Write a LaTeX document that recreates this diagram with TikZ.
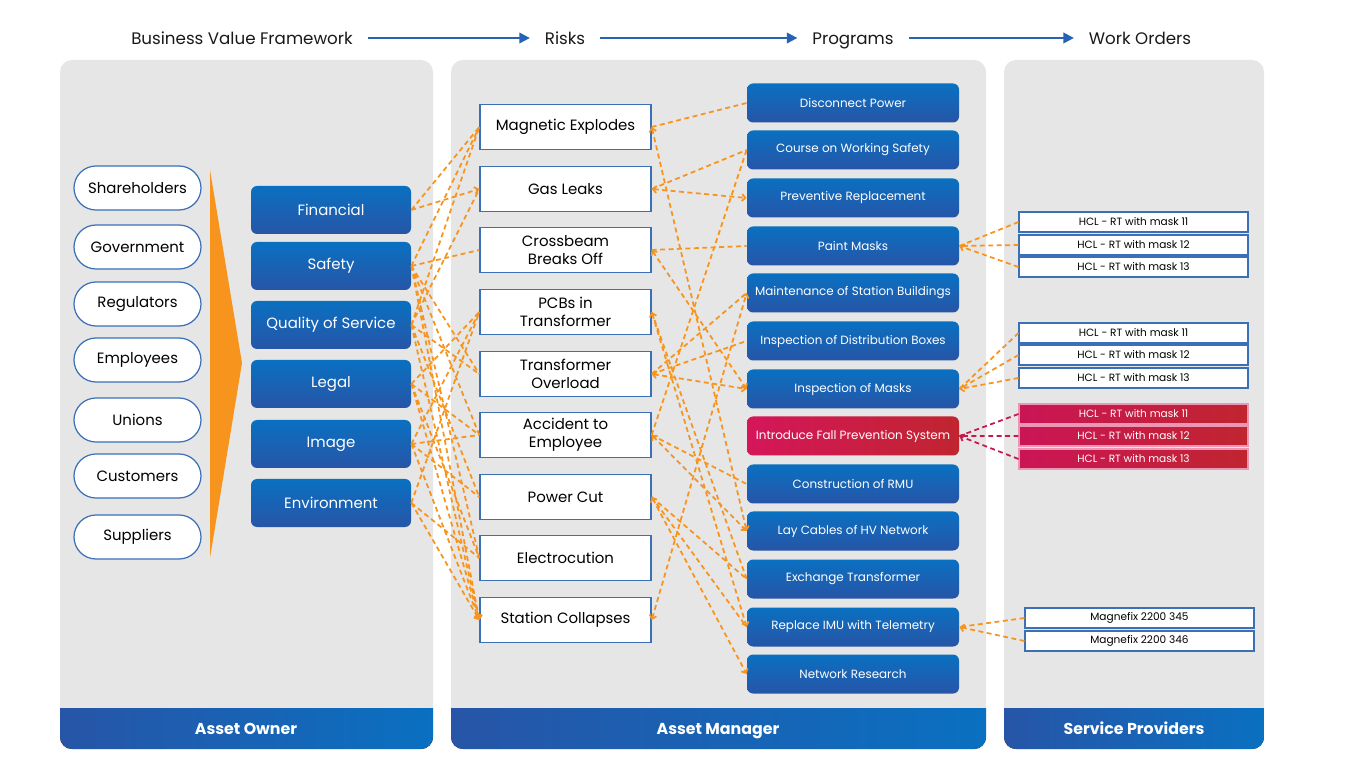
\documentclass[tikz,border=0pt]{standalone}
\usepackage{fontspec}
\setmainfont{Poppins}
\usepackage{xcolor}
\usepackage{tikz}
\usetikzlibrary{positioning, shapes, arrows.meta, calc}

\definecolor{panelgray}{HTML}{E6E6E6}
\definecolor{btop}{HTML}{0A70C1}
\definecolor{bbot}{HTML}{2755A7}
\definecolor{linkorange}{HTML}{F7941D}
\definecolor{rleft}{HTML}{D5165A}
\definecolor{rright}{HTML}{C0252F}
\definecolor{linkred}{HTML}{C8174B}
\definecolor{edgeblue}{HTML}{3B6FB6}
\definecolor{hdblue}{HTML}{2663B4}

\begin{document}
\begin{tikzpicture}[x=0.2mm, y=-0.2mm,
  hd/.style={font=\fontsize{9.5}{11}\selectfont, text=black!90, text height=1.75ex, text depth=0.5ex},
  hdarr/.style={-{Triangle[length=6pt, width=6pt]}, line width=1.2pt, hdblue, shorten <=5pt, shorten >=5pt},
  foot/.style={text=white, font=\bfseries\fontsize{9}{11}\selectfont, text height=1.75ex, text depth=0.5ex},
  pill/.style={draw=edgeblue, fill=white, line width=0.7pt, rounded corners=4.4mm, minimum width=2.54cm, minimum height=0.88cm, font=\fontsize{8.5}{10}\selectfont},
  value/.style={rounded corners=1.2mm, top color=btop, bottom color=bbot, text=white, minimum width=3.2cm, minimum height=0.96cm, font=\fontsize{8.5}{10}\selectfont},
  risk/.style={draw=edgeblue, fill=white, line width=0.8pt, minimum width=3.42cm, minimum height=0.9cm, align=center, inner sep=1pt, font=\fontsize{8.5}{10}\selectfont},
  prog/.style={rounded corners=1.2mm, top color=btop, bottom color=bbot, text=white, minimum width=4.24cm, minimum height=0.78cm, inner sep=1pt, font=\fontsize{6.8}{8}\selectfont},
  hot/.style={left color=rleft, right color=rright},
  wo/.style={draw=edgeblue, fill=white, line width=0.6pt, minimum width=4.58cm, minimum height=0.4cm, inner sep=1pt, font=\fontsize{6}{7}\selectfont},
  wohot/.style={draw=rleft!45, left color=rleft!95!black, right color=rright, text=white},
  link/.style={linkorange, line width=1pt, dash pattern=on 2.8pt off 2pt, >={Straight Barb[length=2pt, width=4pt]}},
  redlink/.style={link, linkred}
]

\useasboundingbox (0,0) rectangle (1366,768);

% ── Panels ──
\fill[panelgray, rounded corners=2.4mm] (60,60) rectangle (433,749);
\fill[panelgray, rounded corners=2.4mm] (451,60) rectangle (986,749);
\fill[panelgray, rounded corners=2.4mm] (1004,60) rectangle (1264,749);
\begin{scope}
  \clip[rounded corners=2.4mm] (60,60) rectangle (433,749) (451,60) rectangle (986,749) (1004,60) rectangle (1264,749);
  \fill[left color=bbot, right color=btop] (60,708) rectangle (433,749);
  \fill[left color=bbot, right color=btop] (451,708) rectangle (986,749);
  \fill[left color=bbot, right color=btop] (1004,708) rectangle (1264,749);
\end{scope}
\node[foot] (owner) at (246,728) {Asset Owner};
\node[foot] (manager) at (718,728) {Asset Manager};
\node[foot] (providers) at (1134,728) {Service Providers};

% ── Header ──
\node[hd] (bvf) at (242,38) {Business Value Framework};
\node[hd] (risks) at (565,38) {Risks};
\node[hd] (programs) at (853,38) {Programs};
\node[hd] (orders) at (1140,38) {Work Orders};
\draw[hdarr] (bvf) -- (risks);
\draw[hdarr] (risks) -- (programs);
\draw[hdarr] (programs) -- (orders);

% ── Stakeholders ──
\node[pill] (share) at (137.5,188) {Shareholders};
\node[pill] (gov) at (137.5,247) {Government};
\node[pill] (reg) at (137.5,304) {Regulators};
\node[pill] (empl) at (137.5,360) {Employees};
\node[pill] (union) at (137.5,420) {Unions};
\node[pill] (cust) at (137.5,476) {Customers};
\node[pill] (supp) at (137.5,537) {Suppliers};
\fill[linkorange] (210,170) -- (242,363) -- (210,558) -- cycle;

% ── Business values ──
\node[value] (fin) at (331,210) {Financial};
\node[value] (saf) at (331,266) {Safety};
\node[value] (qos) at (331,325) {Quality of Service};
\node[value] (leg) at (331,384) {Legal};
\node[value] (img) at (331,444) {Image};
\node[value] (env) at (331,503) {Environment};

% ── Risks ──
\node[risk] (magn) at (565.5,127) {Magnetic Explodes};
\node[risk] (gas) at (565.5,189) {Gas Leaks};
\node[risk] (cross) at (565.5,250) {Crossbeam\\Breaks Off};
\node[risk] (pcb) at (565.5,312) {PCBs in\\Transformer};
\node[risk] (over) at (565.5,374) {Transformer\\Overload};
\node[risk] (acc) at (565.5,435) {Accident to\\Employee};
\node[risk] (power) at (565.5,497) {Power Cut};
\node[risk] (elec) at (565.5,558) {Electrocution};
\node[risk] (coll) at (565.5,620) {Station Collapses};

% ── Programs ──
\node[prog] (disc) at (853,103) {Disconnect Power};
\node[prog] (course) at (853,150) {Course on Working Safety};
\node[prog] (prev) at (853,198) {Preventive Replacement};
\node[prog] (paint) at (853,246) {Paint Masks};
\node[prog] (maint) at (853,293) {Maintenance of Station Buildings};
\node[prog] (distb) at (853,341) {Inspection of Distribution Boxes};
\node[prog] (insm) at (853,389) {Inspection of Masks};
\node[prog, hot] (fall) at (853,436) {Introduce Fall Prevention System};
\node[prog] (rmu) at (853,484) {Construction of RMU};
\node[prog] (lay) at (853,531) {Lay Cables of HV Network};
\node[prog] (exch) at (853,579) {Exchange Transformer};
\node[prog] (repl) at (853,627) {Replace IMU with Telemetry};
\node[prog] (net) at (853,674) {Network Research};

% ── Work orders ──
\node[wo] (pm1) at (1133.5,222) {HCL - RT with mask 11};
\node[wo] (pm2) at (1133.5,245) {HCL - RT with mask 12};
\node[wo] (pm3) at (1133.5,267) {HCL - RT with mask 13};
\node[wo] (im1) at (1133.5,333) {HCL - RT with mask 11};
\node[wo] (im2) at (1133.5,355) {HCL - RT with mask 12};
\node[wo] (im3) at (1133.5,378) {HCL - RT with mask 13};
\node[wo, wohot] (fp1) at (1133.5,414) {HCL - RT with mask 11};
\node[wo, wohot] (fp2) at (1133.5,436) {HCL - RT with mask 12};
\node[wo, wohot] (fp3) at (1133.5,459) {HCL - RT with mask 13};
\node[wo] (mg1) at (1139.5,618) {Magnefix 2200 345};
\node[wo] (mg2) at (1139.5,641) {Magnefix 2200 346};

% ═══ LINKS ═══
% values -> risks
\draw[link, ->] (fin.east) -- (magn.west) (fin.east) -- (gas.west);
\draw[link, ->] (saf.east) -- (magn.west) (saf.east) -- (cross.west) (saf.east) -- (over.west) (saf.east) -- (acc.west) (saf.east) -- (elec.west) (saf.east) -- (coll.west);
\draw[link, ->] (qos.east) -- (magn.west) (qos.east) -- (gas.west) (qos.east) -- (over.west) (qos.east) -- (power.west) (qos.east) -- (coll.west);
\draw[link, ->] (leg.east) -- (pcb.west) (leg.east) -- (acc.west) (leg.east) -- (elec.west) (leg.east) -- (coll.west);
\draw[link, ->] (img.east) -- (pcb.west) (img.east) -- (acc.west) (img.east) -- (power.west) (img.east) -- (coll.west);
\draw[link, ->] (env.east) -- (pcb.west) (env.east) -- (elec.west) (env.east) -- (coll.west);

% risks <-> programs
\draw[link, <->] (magn.east) -- (disc.west) (magn.east) -- (lay.west);
\draw[link, <->] (gas.east) -- (course.west) (gas.east) -- (prev.west);
\draw[link, <->] (cross.east) -- (paint.west) (cross.east) -- (insm.west);
\draw[link, <->] (pcb.east) -- (exch.west) (pcb.east) -- (repl.west);
\draw[link, <->] (over.east) -- (maint.west) (over.east) -- (distb.west) (over.east) -- (insm.west);
\draw[link, <->] (acc.east) -- (course.west) (acc.east) -- (rmu.west) (acc.east) -- (lay.west);
\draw[link, <->] (power.east) -- (exch.west) (power.east) -- (repl.west) (power.east) -- (net.west);
\draw[link, <->] (coll.east) -- (maint.west);

% work orders -> programs
\draw[link, ->] (pm1.west) -- (paint.east) (pm2.west) -- (paint.east) (pm3.west) -- (paint.east);
\draw[link, ->] (im1.west) -- (insm.east) (im2.west) -- (insm.east) (im3.west) -- (insm.east);
\draw[redlink, ->] (fp1.west) -- (fall.east) (fp2.west) -- (fall.east) (fp3.west) -- (fall.east);
\draw[link, ->] (mg1.west) -- (repl.east) (mg2.west) -- (repl.east);

\end{tikzpicture}
\end{document}
